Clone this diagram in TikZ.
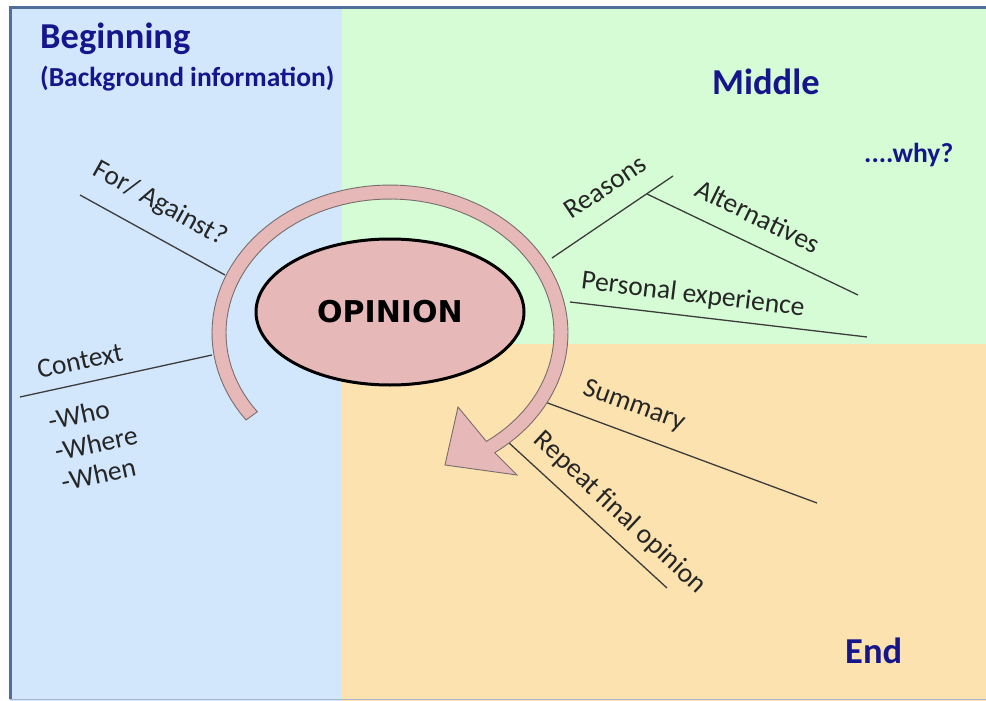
\documentclass[tikz,border=0pt]{standalone}
\usepackage{fontspec}
\setmainfont{Carlito}
\newfontfamily\opfont{DejaVu Sans}
\usetikzlibrary{shapes.geometric}
\definecolor{bgblue}{RGB}{210,230,252}
\definecolor{bggreen}{RGB}{213,252,213}
\definecolor{bgorange}{RGB}{252,226,174}
\definecolor{pinkfill}{RGB}{230,184,183}
\definecolor{headblue}{RGB}{22,22,140}
\definecolor{framecol}{RGB}{80,110,155}
\definecolor{linecol}{RGB}{60,60,60}
\definecolor{ringline}{RGB}{120,110,110}
\begin{document}
\begin{tikzpicture}[x=1pt,y=-1pt,
 head/.style={font=\fontsize{36.5}{40}\selectfont\bfseries, text=headblue, inner sep=0pt},
 sub/.style={font=\fontsize{27.5}{30}\selectfont\bfseries, text=headblue, inner sep=0pt},
 lab/.style={font=\fontsize{27.5}{31}\selectfont, text=black!85, inner sep=0pt},
 conn/.style={draw=linecol, line width=1.3pt},
]
\useasboundingbox (0,0) rectangle (986,701);
\fill[white] (0,0) rectangle (986,701);
\fill[bgblue] (10,8) rectangle (342,701);
\fill[bggreen] (342,8) rectangle (986,344);
\fill[bgorange] (342,344) rectangle (986,701);
\draw[framecol, line width=3pt] (10,699) -- (10,8) -- (990,8);
\draw[framecol!50, line width=1pt] (10,699.5) -- (990,699.5);

% connectors
\coordinate (fa1) at (80,195); \coordinate (fa2) at (225,275);
\coordinate (cx1) at (20,397); \coordinate (cx2) at (212,355);
\coordinate (r1) at (552,258); \coordinate (r2) at (673,176);
\coordinate (ab) at (647,194); \coordinate (a2) at (858,295);
\coordinate (p1) at (570,302); \coordinate (p2) at (867,337);
\coordinate (s1) at (545,402); \coordinate (s2) at (817,503);
\coordinate (rp1) at (508,442); \coordinate (rp2) at (667,588);
\draw[conn] (fa1) -- (fa2);
\draw[conn] (cx1) -- (cx2);
\draw[conn] (r1) -- (r2);
\draw[conn] (ab) -- (a2);
\draw[conn] (p1) -- (p2);
\draw[conn] (s1) -- (s2);
\draw[conn] (rp1) -- (rp2);

% circular arrow
\filldraw[fill=pinkfill, draw=ringline, line width=0.9pt]
 plot[domain=144:414, samples=90] ({390+178*cos(\x)}, {333+148*sin(\x)})
 -- (517,475) -- (445,465) -- (458,407)
 -- plot[domain=414:144, samples=90] ({390+164*cos(\x)}, {333+134*sin(\x)}) -- cycle;

% central ellipse
\node[ellipse, draw=black, line width=3pt, fill=pinkfill, minimum width=268pt, minimum height=146pt,
      font=\opfont\bfseries\fontsize{30}{32}\selectfont] (op) at (390,312) {OPINION};

% labels
\node[lab, rotate=-29] (fa) at (160,204) {For/ Against?};
\node[lab, rotate=12] (ctx) at (80,361) {Context};
\node[lab, rotate=12, align=left] (www) at (96,443) {-Who\\-Where\\-When};
\node[lab, rotate=34] (rea) at (605,187) {Reasons};
\node[lab, rotate=-26] (alt) at (758,216) {Alternatives};
\node[lab, rotate=-7] (pers) at (693,295) {Personal experience};
\node[lab, rotate=-20] (sum) at (634,406) {Summary};
\node[lab, rotate=-43] (rep) at (620,513) {Repeat final opinion};

% headings
\node[head, anchor=base west] (beg) at (40,49) {Beginning};
\node[sub, anchor=base west] (bg) at (40,87) {(Background information)};
\node[head, anchor=base west] (mid) at (712,95) {Middle};
\node[sub, anchor=base west] (why) at (864,162) {....why?};
\node[head, anchor=base west] (end) at (845,663) {End};
\end{tikzpicture}
\end{document}
